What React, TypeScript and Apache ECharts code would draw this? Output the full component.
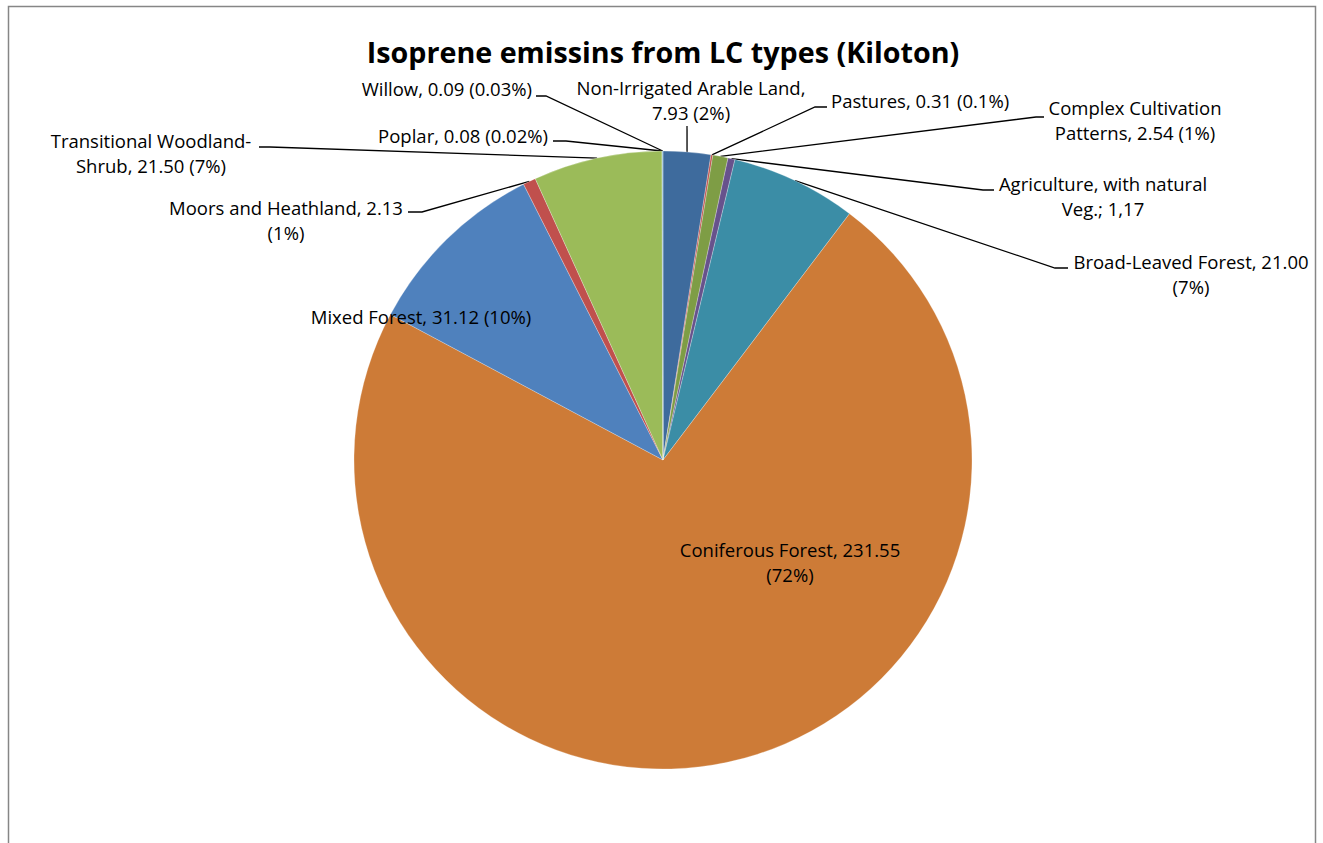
import React, { useEffect, useRef } from "react";
import * as echarts from "echarts";

const categories = [
  "Non-Irrigated Arable Land",
  "Pastures",
  "Complex Cultivation Patterns",
  "Agriculture, with natural Veg.",
  "Broad-Leaved Forest",
  "Coniferous Forest",
  "Mixed Forest",
  "Moors and Heathland",
  "Transitional Woodland-Shrub",
  "Poplar",
  "Willow",
];
const values = [7.93, 0.31, 2.54, 1.17, 21.0, 231.55, 31.12, 2.13, 21.5, 0.08, 0.09];
const percentLabels = ["2%", "0.1%", "1%", "", "7%", "72%", "10%", "1%", "7%", "0.02%", "0.03%"];
const labelTexts = [
  "Non-Irrigated Arable Land,\n7.93 (2%)",
  "Pastures, 0.31 (0.1%)",
  "Complex Cultivation\nPatterns, 2.54 (1%)",
  "Agriculture, with natural\nVeg.; 1,17",
  "Broad-Leaved Forest, 21.00\n(7%)",
  "Coniferous Forest, 231.55\n(72%)",
  "Mixed Forest, 31.12 (10%)",
  "Moors and Heathland, 2.13\n(1%)",
  "Transitional Woodland-\nShrub, 21.50 (7%)",
  "Poplar, 0.08 (0.02%)",
  "Willow, 0.09 (0.03%)",
];
const colors = [
  "#3E6B9D", "#C0504D", "#7E9D45", "#67528C", "#3B8DA6", "#CD7B37",
  "#4F81BD", "#C0504D", "#9BBB59", "#8064A2", "#4BACC6",
];

// label placement (style only): [x, y, align, line elbow x, line elbow y, line end x, showLine]
const labelPlacement: [number, number, string, number, number, number, boolean][] = [
  [691, 100, "center", 687, 126, 687, true],
  [831, 100, "left", 815, 107, 827, true],
  [1135, 120, "center", 1036, 117, 1044, true],
  [1103, 196, "center", 983, 190, 994, true],
  [1191, 274, "center", 1055, 268, 1068, true],
  [790, 562, "center", 0, 0, 0, false],
  [421, 316, "center", 0, 0, 0, false],
  [286, 220, "center", 422, 212, 408, true],
  [151, 153, "center", 270, 147, 259, true],
  [548, 135, "right", 566, 141, 553, true],
  [532, 88, "right", 546, 96, 536, true],
];

const CX = 663;
const CY = 460;
const R = 309;

export default function App() {
  const ref = useRef<HTMLDivElement>(null);
  useEffect(() => {
    if (!ref.current) return;
    const chart = echarts.init(ref.current, null, { renderer: "svg" });
    const total = values.reduce((a, b) => a + b, 0);
    const mids: number[] = [];
    let acc = 0;
    values.forEach((v) => {
      mids.push(((acc + v / 2) / total) * Math.PI * 2);
      acc += v;
    });
    chart.setOption({
      animation: false,
      backgroundColor: "#fff",
      graphic: [
        {
          type: "rect",
          shape: { x: 8.5, y: 6.5, width: 1307, height: 900 },
          style: { fill: "none", stroke: "#868686", lineWidth: 1.5 },
          silent: true,
        },
        {
          type: "text",
          x: 663,
          y: 51,
          style: {
            text: "Isoprene emissins from LC types (Kiloton)",
            font: "bold 28.7px 'Open Sans'",
            fill: "#000",
            textAlign: "center",
            textVerticalAlign: "middle",
          },
        },
      ],
      series: [
        {
          type: "pie",
          center: [CX, CY],
          radius: R,
          startAngle: 90,
          clockwise: true,
          avoidLabelOverlap: false,
          itemStyle: { borderColor: "rgba(255,255,255,0.5)", borderWidth: 0.5 },
          data: categories.map((name, i) => ({
            name,
            value: values[i],
            itemStyle: { color: colors[i] },
            labelLine: { show: labelPlacement[i][6] },
          })),
          label: {
            show: true,
            position: "outside",
            formatter: (p: any) => labelTexts[p.dataIndex],
            fontFamily: "Open Sans",
            fontSize: 18.5,
            lineHeight: 25,
            color: "#000",
          },
          labelLine: {
            show: true,
            lineStyle: { color: "#000", width: 1.3 },
          },
          labelLayout: (params: any) => {
            const i = params.dataIndex;
            const pl = labelPlacement[i];
            const a = mids[i];
            const ex = CX + R * Math.sin(a);
            const ey = CY - R * Math.cos(a);
            const out: any = {
              x: pl[0],
              y: pl[1],
              align: pl[2],
              verticalAlign: "middle",
            };
            if (pl[6]) {
              out.labelLinePoints = [
                [ex, ey],
                [pl[3], pl[4]],
                [pl[5], pl[4]],
              ];
            }
            return out;
          },
        },
      ],
    });
    return () => chart.dispose();
  }, []);
  return (
    <div
      ref={ref}
      style={{ position: "absolute", left: 0, top: 0, width: 1323, height: 843 }}
    />
  );
}
